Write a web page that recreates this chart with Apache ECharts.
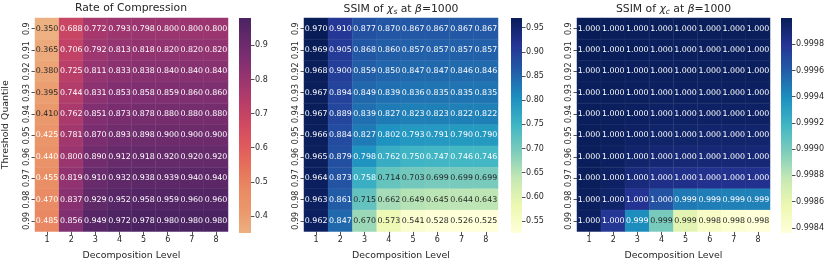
<!DOCTYPE html>
<html><head><meta charset="utf-8">
<script src="https://cdn.jsdelivr.net/npm/echarts@6/dist/echarts.min.js"></script>
<style>html,body{margin:0;padding:0;background:#fff}#c{width:830px;height:265px}</style>
</head><body><div id="c"></div>
<script>
const levels = ['1','2','3','4','5','6','7','8'];
const quantiles = ['0.9','0.91','0.92','0.93','0.94','0.95','0.96','0.97','0.98','0.99'];

const compression = [
  [0.350,0.688,0.772,0.793,0.798,0.800,0.800,0.800],
  [0.365,0.706,0.792,0.813,0.818,0.820,0.820,0.820],
  [0.380,0.725,0.811,0.833,0.838,0.840,0.840,0.840],
  [0.395,0.744,0.831,0.853,0.858,0.859,0.860,0.860],
  [0.410,0.762,0.851,0.873,0.878,0.880,0.880,0.880],
  [0.425,0.781,0.870,0.893,0.898,0.900,0.900,0.900],
  [0.440,0.800,0.890,0.912,0.918,0.920,0.920,0.920],
  [0.455,0.819,0.910,0.932,0.938,0.939,0.940,0.940],
  [0.470,0.837,0.929,0.952,0.958,0.959,0.960,0.960],
  [0.485,0.856,0.949,0.972,0.978,0.980,0.980,0.980]
];
const ssimS = [
  [0.970,0.910,0.877,0.870,0.867,0.867,0.867,0.867],
  [0.969,0.905,0.868,0.860,0.857,0.857,0.857,0.857],
  [0.968,0.900,0.859,0.850,0.847,0.847,0.846,0.846],
  [0.967,0.894,0.849,0.839,0.836,0.835,0.835,0.835],
  [0.967,0.889,0.839,0.827,0.823,0.823,0.822,0.822],
  [0.966,0.884,0.827,0.802,0.793,0.791,0.790,0.790],
  [0.965,0.879,0.798,0.762,0.750,0.747,0.746,0.746],
  [0.964,0.873,0.758,0.714,0.703,0.699,0.699,0.699],
  [0.963,0.861,0.715,0.662,0.649,0.645,0.644,0.643],
  [0.962,0.847,0.670,0.573,0.541,0.528,0.526,0.525]
];
const ssimC = [
  [1.00000,0.99999,0.99999,0.99999,0.99999,0.99999,0.99999,0.99999],
  [1.00000,0.99999,0.99999,0.99998,0.99998,0.99998,0.99998,0.99998],
  [0.99999,0.99999,0.99998,0.99998,0.99998,0.99998,0.99998,0.99998],
  [0.99999,0.99999,0.99998,0.99997,0.99997,0.99997,0.99997,0.99997],
  [0.99999,0.99998,0.99997,0.99996,0.99996,0.99996,0.99996,0.99996],
  [0.99999,0.99998,0.99996,0.99994,0.99994,0.99993,0.99993,0.99993],
  [0.99999,0.99997,0.99993,0.99991,0.99990,0.99990,0.99990,0.99990],
  [0.99999,0.99996,0.99988,0.99984,0.99983,0.99982,0.99982,0.99982],
  [0.99998,0.99994,0.99980,0.99965,0.99948,0.99946,0.99945,0.99945],
  [0.99997,0.99978,0.99940,0.99900,0.99862,0.99845,0.99840,0.99836]
];
const cbTicks1 = [0.4,0.5,0.6,0.7,0.8,0.9];
const cbTicks2 = [0.55,0.60,0.65,0.70,0.75,0.80,0.85,0.90,0.95];
const cbTicks3 = [0.9984,0.9986,0.9988,0.9990,0.9992,0.9994,0.9996,0.9998];
const range1 = [0.350, 0.980];
const range2 = [0.525, 0.970];
const range3 = [0.99836, 1.00000];

const flare = ['#edb081','#ea986b','#e98b64','#e6735b','#e05b5c','#d14a61','#b93e68','#9e366f','#812f71','#652a6a','#4b2362'];
const ylgnbu = ['#ffffd9','#edf8b1','#c7e9b4','#7fcdbb','#41b6c4','#1d91c0','#225ea8','#253494','#081d58'];

function hex2rgb(h){return [parseInt(h.slice(1,3),16),parseInt(h.slice(3,5),16),parseInt(h.slice(5,7),16)];}
function colorAt(stops, t){
  t=Math.max(0,Math.min(1,t));
  const n=stops.length-1, p=t*n, i=Math.min(n-1,Math.floor(p)), f=p-i;
  const a=hex2rgb(stops[i]), b=hex2rgb(stops[i+1]);
  return a.map((v,k)=>v+(b[k]-v)*f);
}
function lum(rgb){
  const c=rgb.map(v=>{v/=255;return v<=0.03928?v/12.92:Math.pow((v+0.055)/1.055,2.4);});
  return 0.2126*c[0]+0.7152*c[1]+0.0722*c[2];
}
function buildData(mat, stops, range){
  const out=[];
  mat.forEach((row,yi)=>row.forEach((v,xi)=>{
    const t=(v-range[0])/(range[1]-range[0]);
    const l=lum(colorAt(stops,t));
    out.push({value:[xi,yi,v],label:{color: l>0.408 ? '#262626' : '#ffffff'}});
  }));
  return out;
}

const TXT='#262626';
const FONT='DejaVu Sans';
const gridsPos=[{left:34,width:194},{left:304,width:194},{left:577,width:193}];
const cbPos=[{left:239,width:12},{left:511,width:11},{left:781,width:11}];
const TOP=18, H=215;

const grids=[], xAxes=[], yAxes=[], series=[], visualMaps=[], graphics=[];
const mats=[compression,ssimS,ssimC], stopsList=[flare,ylgnbu,ylgnbu], ranges=[range1,range2,range3];
const cbTicks=[cbTicks1,cbTicks2,cbTicks3];
const cbFmt=[v=>v.toFixed(1), v=>v.toFixed(2), v=>v.toFixed(4)];

for(let i=0;i<3;i++){
  grids.push({left:gridsPos[i].left,top:TOP,width:gridsPos[i].width,height:H});
  xAxes.push({type:'category',gridIndex:i,data:levels,position:'bottom',
    name:'Decomposition Level',nameLocation:'middle',nameGap:19.5,
    nameTextStyle:{fontFamily:FONT,fontSize:9.4,color:TXT},
    axisLine:{show:false},axisTick:{show:true,alignWithLabel:true,length:3.5,lineStyle:{color:TXT,width:0.8}},
    axisLabel:{interval:0,fontFamily:FONT,fontSize:8,color:TXT,margin:4},splitLine:{show:false}});
  yAxes.push({type:'category',gridIndex:i,data:quantiles,inverse:true,
    name: i===0?'Threshold Quantile':'',nameLocation:'middle',nameGap:25,
    nameTextStyle:{fontFamily:FONT,fontSize:9.4,color:TXT},
    axisLine:{show:false},axisTick:{show:true,interval:0,alignWithLabel:true,length:3.5,lineStyle:{color:TXT,width:0.8}},
    axisLabel:{interval:0,fontFamily:FONT,fontSize:8,color:TXT,rotate:90,margin:4},splitLine:{show:false}});
  series.push({type:'heatmap',xAxisIndex:i,yAxisIndex:i,data:buildData(mats[i],stopsList[i],ranges[i]),
    itemStyle:{borderColor:'rgba(255,255,255,0.10)',borderWidth:0.5},
    label:{show:true,fontFamily:FONT,fontSize:7.9,formatter:p=>p.value[2].toFixed(3)},
    emphasis:{disabled:true},animation:false});
  visualMaps.push({type:'continuous',show:false,seriesIndex:i,dimension:2,min:ranges[i][0],max:ranges[i][1],
    inRange:{color:stopsList[i]}});
}
// colorbars
for(let i=0;i<3;i++){
  const gi=3+i;
  grids.push({left:cbPos[i].left,top:TOP,width:cbPos[i].width,height:H});
  xAxes.push({type:'category',gridIndex:gi,data:[''],show:false});
  yAxes.push({type:'value',gridIndex:gi,position:'right',min:ranges[i][0],max:ranges[i][1],
    axisLine:{show:false},splitLine:{show:false},
    axisTick:{show:true,length:3.5,lineStyle:{color:TXT,width:0.8},customValues:cbTicks[i]},
    axisLabel:{show:true,fontFamily:FONT,fontSize:8,color:TXT,margin:4,customValues:cbTicks[i],formatter:cbFmt[i]}});
  const st=stopsList[i];
  graphics.push({type:'rect',shape:{x:cbPos[i].left,y:TOP,width:cbPos[i].width,height:H},z:-1,
    style:{fill:new echarts.graphic.LinearGradient(0,1,0,0,st.map((c,k)=>({offset:k/(st.length-1),color:c})))}});
}

const titleCenters=[131,401,673.5];
const titleTexts=['Rate of Compression','SSIM of {i|χ}{s|s} at {i|β}=1000','SSIM of {i|χ}{s|c} at {i|β}=1000'];
const titles=titleTexts.map((t,k)=>({text:t,left:titleCenters[k],top:3,textAlign:'center',padding:0,
  textStyle:{fontFamily:FONT,fontSize:10.8,fontWeight:'normal',color:TXT,
    rich:{i:{fontFamily:FONT,fontSize:10.8,fontStyle:'italic',color:TXT},
          s:{fontFamily:FONT,fontSize:7.5,fontStyle:'italic',color:TXT,padding:[5,0,0,0]}}}}));

const chart=echarts.init(document.getElementById('c'),null,{renderer:'canvas'});
chart.setOption({animation:false,backgroundColor:'#fff',title:titles,grid:grids,xAxis:xAxes,yAxis:yAxes,
  visualMap:visualMaps,series:series,graphic:graphics});
</script></body></html>
